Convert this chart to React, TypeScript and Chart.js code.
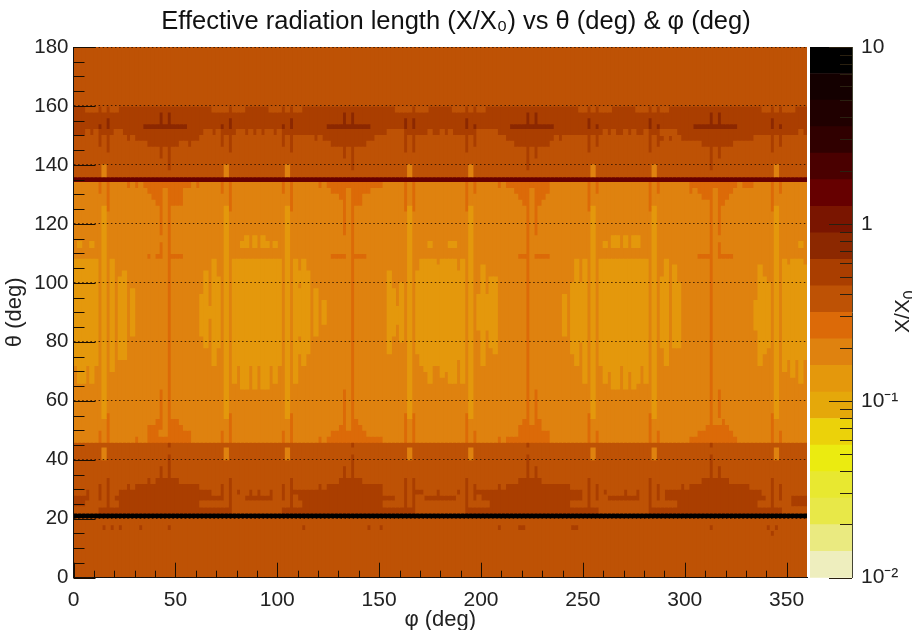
import React, { useEffect, useRef } from "react";
import { Chart, registerables } from "chart.js";

Chart.register(...registerables);

type Box = [number, number, number, number];

const TITLE = "Effective radiation length (X/X₀) vs θ (deg) & φ (deg)";
const X_TITLE = "φ (deg)";
const Y_TITLE = "θ (deg)";
const FONT = "'Liberation Sans', Arial, sans-serif";

const CONTOUR_EDGES = [0.01, 0.0141, 0.01995, 0.0282, 0.0398, 0.0562, 0.0794, 0.1122, 0.1585, 0.2239, 0.3162, 0.4467, 0.631, 0.891, 1.259, 1.778, 2.512, 3.548, 5.012, 7.079, 10];
const CONTOUR_COLOURS = ["#EEEEBE", "#EAEA80", "#E8E848", "#E8E830", "#EBEB10", "#EBD20A", "#E5A80A", "#E4980C", "#DF820F", "#DC6A08", "#BE5205", "#AA3E00", "#8C2800", "#7A1500", "#660000", "#4A0000", "#300000", "#200000", "#140000", "#000000"];
const COLOURBAR_MAJOR = [0.01, 0.1, 1, 10];
const COLOURBAR_MINOR = [0.02, 0.03, 0.04, 0.05, 0.06, 0.07, 0.08, 0.09, 0.2, 0.3, 0.4, 0.5, 0.6, 0.7, 0.8, 0.9, 2, 3, 4, 5, 6, 7, 8, 9];
const COLOURBAR_LABELS: Record<string, string> = { "0.01": "10⁻²", "0.1": "10⁻¹", "1": "1", "10": "10" };

const X_MAJOR = [0, 50, 100, 150, 200, 250, 300, 350];
const X_MINOR = [10, 20, 30, 40, 60, 70, 80, 90, 110, 120, 130, 140, 160, 170, 180, 190, 210, 220, 230, 240, 260, 270, 280, 290, 310, 320, 330, 340];
const Y_MAJOR = [0, 20, 40, 60, 80, 100, 120, 140, 160, 180];
const Y_MINOR = [5, 10, 15, 25, 30, 35, 45, 50, 55, 65, 70, 75, 85, 90, 95, 105, 110, 115, 125, 130, 135, 145, 150, 155, 165, 170, 175];

// phi starts of the repeating vertical stripes (2 deg wide)
const LIGHT_STRIPES = [14, 74, 104, 164, 194, 254, 284, 344];
const LONG_STRIPES = [16, 76, 106, 162, 166, 192, 252, 282, 342];
const SHORT_STRIPES = [12, 72, 102, 196, 256, 286, 346];
const MAIN_COLUMNS = [46, 136, 222, 312];
const SIDE_COLUMNS = [42, 132, 226, 316];
const COLUMN_GAPS = [44, 134, 224, 314];

// all boxes: [phi from, phi to, theta from, theta to]
const LEVEL10_BASE: Box[] = [[0, 360, 0, 46], [0, 360, 136, 180]];
const LEVEL8_BASE: Box[] = [[0, 360, 46, 134]];
const LEVEL11_BASE: Box[] = [[0, 360, 150, 160]];
const LEVEL10_TUFTS: Box[] = [
  [6, 12, 158, 160], [14, 16, 158, 160], [18, 22, 158, 160], [68, 74, 158, 160], [74, 76, 158, 160], [78, 84, 158, 160], [96, 102, 158, 160], [104, 106, 158, 160], [108, 112, 158, 160],
  [158, 164, 158, 160], [164, 166, 158, 160], [168, 174, 158, 160], [186, 192, 158, 160], [194, 196, 158, 160], [198, 202, 158, 160], [248, 252, 158, 160], [254, 256, 158, 160], [258, 264, 158, 160],
  [276, 282, 158, 160], [284, 286, 158, 160], [288, 292, 158, 160], [338, 342, 158, 160], [344, 346, 158, 160], [348, 354, 158, 160],
  [6, 8, 150, 152], [10, 12, 150, 152], [20, 24, 150, 152], [64, 68, 150, 152], [70, 72, 150, 152], [80, 84, 150, 152], [86, 88, 150, 152], [90, 92, 150, 152], [94, 98, 150, 152], [100, 102, 150, 152],
  [154, 162, 150, 152], [174, 176, 150, 152], [180, 182, 150, 152], [184, 186, 150, 152], [198, 208, 150, 152], [260, 262, 150, 152], [264, 266, 150, 152], [270, 272, 150, 152], [274, 276, 150, 152], [280, 282, 150, 152], [288, 296, 150, 152], [356, 358, 150, 152],
];
const LEVEL11_RIDGES: Box[] = [
  [26, 28, 148, 150], [30, 62, 148, 150], [118, 120, 148, 150], [122, 148, 148, 150], [212, 236, 148, 150], [238, 240, 148, 150], [288, 290, 148, 150], [292, 294, 148, 150], [298, 334, 148, 150],
  [36, 52, 146, 148], [56, 58, 146, 148], [126, 144, 146, 148], [216, 234, 146, 148], [308, 324, 146, 148],
  [42, 44, 142, 146], [46, 48, 138, 146], [132, 134, 142, 146], [136, 138, 138, 146], [222, 224, 138, 146], [226, 228, 142, 146], [312, 314, 138, 146], [316, 318, 142, 146],
  [12, 78, 22, 24], [102, 168, 22, 24], [192, 258, 22, 24], [282, 348, 22, 24],
  [0, 6, 24, 26], [22, 62, 24, 26], [112, 152, 24, 26], [204, 244, 24, 26], [296, 336, 24, 26], [352, 360, 24, 26],
  [0, 8, 26, 28], [20, 72, 26, 28], [84, 98, 26, 28], [110, 158, 26, 28], [172, 188, 26, 28], [200, 250, 26, 28], [262, 278, 26, 28], [290, 340, 26, 28], [352, 360, 26, 28],
  [6, 8, 28, 30], [22, 68, 28, 30], [80, 82, 28, 30], [86, 88, 28, 30], [90, 92, 28, 30], [96, 98, 28, 30], [108, 152, 28, 30], [168, 172, 28, 30], [178, 180, 28, 30], [188, 190, 28, 30], [198, 250, 28, 30], [260, 262, 28, 30], [270, 272, 28, 30], [276, 278, 28, 30], [290, 338, 28, 30],
  [26, 28, 30, 32], [30, 62, 30, 32], [120, 122, 30, 32], [124, 152, 30, 32], [208, 210, 30, 32], [212, 244, 30, 32], [298, 300, 30, 32], [302, 332, 30, 32],
  [36, 38, 32, 34], [40, 52, 32, 34], [130, 142, 32, 34], [218, 230, 32, 34], [308, 322, 32, 34],
  [42, 44, 34, 38], [46, 48, 34, 42], [46, 48, 44, 46], [132, 134, 34, 38], [136, 138, 34, 42], [136, 138, 44, 46], [222, 224, 34, 42], [222, 224, 44, 46], [226, 228, 34, 38], [312, 314, 34, 42], [312, 314, 44, 46], [316, 318, 34, 38],
];
const LEVEL11_DOTS: Box[] = [
  [14, 16, 16, 18], [18, 20, 16, 18], [22, 24, 16, 18], [32, 34, 16, 18], [46, 48, 16, 18], [112, 114, 16, 18], [144, 146, 16, 18], [150, 152, 16, 18], [208, 210, 16, 18], [218, 222, 16, 18],
  [244, 248, 16, 18], [312, 314, 16, 18], [340, 342, 16, 18], [342, 344, 14, 16], [344, 346, 16, 18],
];
const LEVEL12_CROSSES: Box[] = [
  [34, 56, 152, 154], [124, 146, 152, 154], [214, 236, 152, 154], [304, 326, 152, 154],
  [42, 44, 154, 158], [46, 48, 154, 158], [132, 134, 154, 158], [136, 138, 154, 158], [222, 224, 154, 158], [226, 228, 154, 158], [312, 314, 154, 158], [316, 318, 154, 158],
];
const LEVEL7_PATCHES: Box[] = [
  [0, 12, 72, 108], [2, 6, 66, 72], [8, 10, 66, 72], [2, 4, 112, 114], [8, 10, 112, 114],
  [18, 20, 70, 108], [22, 26, 74, 102], [24, 26, 102, 104], [28, 30, 82, 98],
  [64, 66, 78, 104], [62, 64, 82, 96], [68, 70, 72, 108], [70, 72, 78, 102], [66, 68, 88, 92],
  [78, 102, 72, 108], [78, 80, 66, 72], [82, 86, 64, 72], [88, 90, 64, 72], [92, 96, 64, 72], [98, 100, 66, 72],
  [82, 86, 112, 114], [84, 86, 114, 116], [88, 90, 112, 116], [92, 94, 112, 116], [94, 96, 112, 114], [98, 100, 112, 114],
  [108, 110, 66, 108], [112, 114, 72, 108], [110, 116, 76, 104], [118, 120, 82, 98], [122, 124, 86, 94],
  [154, 156, 76, 104], [156, 158, 82, 98], [154, 160, 86, 92], [160, 162, 80, 100],
  [168, 170, 76, 104], [170, 192, 72, 108], [172, 174, 70, 72], [174, 176, 66, 72], [180, 182, 68, 72], [182, 184, 70, 72], [184, 188, 66, 72], [190, 192, 66, 72],
  [174, 176, 112, 114], [184, 188, 112, 114],
  [198, 200, 84, 96], [200, 202, 72, 106], [202, 204, 84, 96], [204, 208, 78, 102], [206, 208, 76, 78], [240, 242, 82, 96],
  [244, 246, 76, 100], [246, 248, 72, 108], [248, 250, 80, 100], [250, 252, 66, 108],
  [258, 282, 72, 108], [260, 262, 66, 72], [262, 264, 70, 72], [264, 268, 64, 72], [270, 272, 64, 72], [272, 274, 70, 72], [274, 276, 64, 72], [276, 278, 66, 72], [280, 282, 66, 72],
  [260, 262, 112, 114], [264, 268, 112, 116], [270, 272, 112, 116], [274, 278, 112, 116],
  [288, 292, 78, 102], [290, 292, 72, 108], [294, 296, 78, 106], [296, 298, 78, 100],
  [334, 336, 84, 94], [336, 338, 72, 106], [338, 340, 76, 102], [340, 342, 78, 100],
  [348, 360, 74, 108], [348, 350, 70, 74], [352, 354, 68, 74], [356, 358, 66, 74], [356, 358, 112, 114],
];
const LEVEL8_HOLES: Box[] = [[110, 112, 98, 100], [110, 112, 80, 82], [178, 180, 106, 108], [188, 190, 104, 108], [188, 190, 72, 74], [350, 352, 106, 108], [358, 360, 106, 108]];
const LEVEL9_TRIANGLES: Box[] = [
  [26, 28, 132, 134], [30, 32, 132, 134], [34, 58, 132, 134], [60, 62, 132, 134], [120, 122, 132, 134], [124, 152, 132, 134], [208, 210, 132, 134], [212, 234, 132, 134], [302, 326, 132, 134], [328, 334, 132, 134],
  [36, 54, 130, 132], [126, 146, 130, 132], [216, 234, 130, 132], [302, 304, 130, 132], [306, 324, 130, 132],
  [38, 54, 128, 130], [130, 142, 128, 130], [218, 232, 128, 130], [308, 322, 128, 130],
  [40, 46, 126, 128], [48, 54, 126, 128], [132, 142, 126, 128], [220, 230, 126, 128], [312, 320, 126, 128],
  [36, 38, 108, 110], [40, 44, 108, 110], [48, 54, 108, 110], [42, 44, 110, 114], [126, 134, 108, 110], [138, 144, 108, 110], [218, 222, 108, 110], [226, 234, 108, 110], [306, 312, 108, 110], [316, 324, 108, 110], [316, 318, 110, 114],
  [30, 32, 46, 48], [36, 58, 46, 48], [120, 122, 46, 48], [124, 152, 46, 48], [208, 210, 46, 48], [212, 234, 46, 48], [302, 326, 46, 48],
  [36, 42, 48, 50], [46, 58, 48, 50], [126, 144, 48, 50], [218, 234, 48, 50], [306, 324, 48, 50],
  [36, 44, 50, 52], [46, 54, 50, 52], [130, 134, 50, 52], [138, 142, 50, 52], [218, 230, 50, 52], [310, 322, 50, 52],
  [40, 44, 52, 54], [48, 52, 52, 54], [132, 134, 52, 54], [138, 140, 52, 54], [220, 224, 52, 54], [226, 230, 52, 54], [312, 314, 52, 54], [318, 320, 52, 54],
];
const LEVEL14_BAND: Box[] = [[0, 360, 134, 136]];
const LEVEL19_BAND: Box[] = [[0, 360, 20, 22]];

const PHI_BINS = 180;
const THETA_BINS = 90;
const BIN = 2;

function buildGrid(): number[][] {
  const grid = Array.from({ length: PHI_BINS }, () => new Array(THETA_BINS).fill(10));
  const paint = (boxes: Box[], level: number) => {
    for (const [p0, p1, t0, t1] of boxes)
      for (let p = p0 / BIN; p < p1 / BIN; p++)
        for (let t = t0 / BIN; t < t1 / BIN; t++) grid[p][t] = level;
  };
  const column = (starts: number[], t0: number, t1: number): Box[] => starts.map((p) => [p, p + BIN, t0, t1] as Box);
  paint(LEVEL10_BASE, 10);
  paint(LEVEL8_BASE, 8);
  paint(LEVEL11_BASE, 11);
  paint(LEVEL10_TUFTS, 10);
  paint(LEVEL11_RIDGES, 11);
  paint(LEVEL11_DOTS, 11);
  paint(column(LONG_STRIPES, 144, 152), 11);
  paint(column(SHORT_STRIPES, 146, 152), 11);
  paint(column(LONG_STRIPES, 24, 34), 11);
  paint(column(SHORT_STRIPES, 26, 32), 11);
  paint(LEVEL12_CROSSES, 12);
  paint(column(LONG_STRIPES, 152, 156), 12);
  paint(column(SHORT_STRIPES, 152, 154), 12);
  paint(LEVEL7_PATCHES, 7);
  paint(LEVEL8_HOLES, 8);
  paint(column(LIGHT_STRIPES, 54, 126), 7);
  paint(column(LIGHT_STRIPES, 40, 44), 8);
  paint(column(LIGHT_STRIPES, 136, 140), 8);
  paint(LEVEL9_TRIANGLES, 9);
  paint(column(MAIN_COLUMNS, 46, 134), 9);
  paint(column(SIDE_COLUMNS, 116, 126), 9);
  paint(column(SIDE_COLUMNS, 54, 64), 9);
  paint(column(LONG_STRIPES, 124, 134), 9);
  paint(column(LONG_STRIPES, 46, 56), 9);
  paint(column(SHORT_STRIPES, 130, 134), 9);
  paint(column(SHORT_STRIPES, 46, 50), 9);
  paint(column(COLUMN_GAPS, 124, 132), 8);
  paint(LEVEL14_BAND, 14);
  paint(LEVEL19_BAND, 19);
  return grid;
}

function buildDatasets() {
  const grid = buildGrid();
  const perLevel: { x: number; y: [number, number] }[][] = CONTOUR_COLOURS.map(() => []);
  grid.forEach((col, p) => {
    let start = 0;
    for (let t = 1; t <= THETA_BINS; t++) {
      if (t === THETA_BINS || col[t] !== col[start]) {
        perLevel[col[start]].push({ x: p * BIN + BIN / 2, y: [start * BIN - 0.08, t * BIN + 0.08] });
        start = t;
      }
    }
  });
  return perLevel.map((data, i) => ({ data, backgroundColor: CONTOUR_COLOURS[i], borderWidth: 0, barThickness: 4.6, grouped: false }));
}

const mainTicks = {
  id: "mainTicks",
  afterDraw(chart: any) {
    const { ctx, chartArea: a, scales } = chart;
    ctx.save();
    ctx.strokeStyle = "#1a0d00";
    ctx.lineWidth = 1;
    const h = (v: number, len: number) => {
      const y = Math.round(scales.y.getPixelForValue(v)) + 0.5;
      ctx.beginPath(); ctx.moveTo(a.left, y); ctx.lineTo(a.left + len, y); ctx.stroke();
    };
    const w = (v: number, len: number) => {
      const x = Math.round(scales.x.getPixelForValue(v)) + 0.5;
      ctx.beginPath(); ctx.moveTo(x, a.bottom); ctx.lineTo(x, a.bottom - len); ctx.stroke();
    };
    Y_MAJOR.forEach((v) => h(v, 22));
    Y_MINOR.forEach((v) => h(v, 11));
    X_MAJOR.forEach((v) => w(v, 15));
    X_MINOR.forEach((v) => w(v, 7));
    ctx.restore();
  },
};

const barTicks = {
  id: "barTicks",
  afterDraw(chart: any) {
    const { ctx, chartArea: a, scales } = chart;
    ctx.save();
    ctx.strokeStyle = "#2a2010";
    ctx.lineWidth = 1;
    const t = (v: number, len: number) => {
      const y = Math.round(scales.y.getPixelForValue(v)) + 0.5;
      ctx.beginPath(); ctx.moveTo(a.right, y); ctx.lineTo(a.right - len, y); ctx.stroke();
    };
    COLOURBAR_MAJOR.forEach((v) => t(v, 23));
    COLOURBAR_MINOR.forEach((v) => t(v, 12));
    ctx.fillStyle = "#222";
    ctx.translate(101, 333);
    ctx.rotate(-Math.PI / 2);
    ctx.textBaseline = "alphabetic";
    ctx.textAlign = "left";
    ctx.font = `21px ${FONT}`;
    ctx.fillText("X/X", 0, 0);
    const w = ctx.measureText("X/X").width;
    ctx.font = `16px ${FONT}`;
    ctx.fillText("0", w, 6);
    ctx.restore();
  },
};

const SOFT = "blur(0.4px)";

export default function App() {
  const mainRef = useRef<HTMLCanvasElement>(null);
  const barRef = useRef<HTMLCanvasElement>(null);

  useEffect(() => {
    const main = new Chart(mainRef.current!, {
      type: "bar",
      data: { datasets: buildDatasets() as any },
      plugins: [mainTicks],
      options: {
        responsive: false,
        animation: false,
        events: [],
        layout: { padding: 0 },
        plugins: {
          legend: { display: false },
          tooltip: { enabled: false },
          title: {
            display: true,
            text: TITLE,
            color: "#111",
            font: { family: FONT, size: 25.5, weight: "normal" },
            padding: { top: 7, bottom: 9.4 },
          },
        },
        scales: {
          x: {
            type: "linear",
            min: 0,
            max: 360,
            offset: false,
            grid: { display: false, offset: false },
            border: { display: true, color: "#111", width: 1, z: 1 },
            ticks: { stepSize: 50, includeBounds: false, maxRotation: 0, autoSkip: false, padding: 2, color: "#222", font: { family: FONT, size: 21 } },
            title: { display: true, text: X_TITLE, color: "#222", font: { family: FONT, size: 22 }, padding: { top: 0, bottom: -3 } },
            afterFit: (s: any) => { s.height = 52.3; },
          },
          y: {
            type: "linear",
            min: 0,
            max: 180,
            grid: { display: true, drawTicks: false, color: "rgba(40,15,0,0.85)", lineWidth: 1, z: 1 },
            border: { display: true, color: "#111", width: 1, z: 1, dash: [1.5, 2.6] },
            ticks: { stepSize: 20, padding: 5, color: "#222", font: { family: FONT, size: 20.5 } },
            title: { display: true, text: Y_TITLE, color: "#222", font: { family: FONT, size: 22 }, padding: { top: 2, bottom: 0 } },
            afterFit: (s: any) => { s.width = 73.5; },
          },
          // keeps the room of the colour bar at the right while the title stays centred on the page
          colourbarRoom: {
            type: "linear",
            position: "right",
            display: true,
            grid: { display: false, drawTicks: false },
            border: { display: false },
            ticks: { display: false },
            afterFit: (s: any) => { s.width = 105; },
          },
        },
      } as any,
    });

    const bar = new Chart(barRef.current!, {
      type: "bar",
      data: {
        labels: ["X/X0"],
        datasets: CONTOUR_COLOURS.map((c, i) => ({
          data: [[CONTOUR_EDGES[i], CONTOUR_EDGES[i + 1]]],
          backgroundColor: c,
          borderWidth: 0,
          grouped: false,
          barPercentage: 1,
          categoryPercentage: 1,
        })) as any,
      },
      plugins: [barTicks],
      options: {
        responsive: false,
        animation: false,
        events: [],
        layout: { padding: { left: 2, right: 0, top: 47, bottom: 52.3 } },
        plugins: { legend: { display: false }, tooltip: { enabled: false } },
        scales: {
          x: { display: false, offset: true },
          y: {
            type: "logarithmic",
            position: "right",
            min: 0.01,
            max: 10,
            grid: { display: false, drawTicks: false },
            border: { display: true, color: "#443", width: 1, z: 1 },
            afterBuildTicks: (s: any) => { s.ticks = COLOURBAR_MAJOR.map((value) => ({ value, major: true })); },
            ticks: {
              padding: 9,
              autoSkip: false,
              color: "#222",
              font: { family: FONT, size: 21 },
              callback: (v: any) => COLOURBAR_LABELS[String(v)] ?? "",
            },
            afterFit: (s: any) => { s.width = 60; },
          },
        },
      } as any,
    });

    return () => { main.destroy(); bar.destroy(); };
  }, []);

  return (
    <div style={{ position: "fixed", left: 0, top: 0, width: 912, height: 630, background: "#fff" }}>
      <canvas ref={mainRef} width={912} height={630} style={{ position: "absolute", left: 0, top: 0, filter: SOFT }} />
      <canvas ref={barRef} width={104} height={630} style={{ position: "absolute", left: 808, top: 0, filter: SOFT }} />
    </div>
  );
}
